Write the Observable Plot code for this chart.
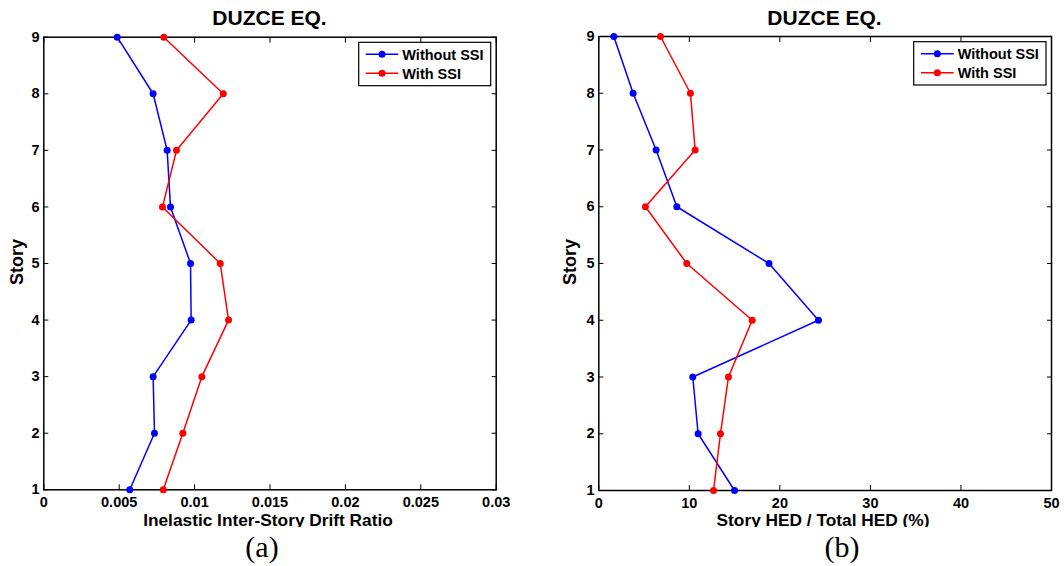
<!DOCTYPE html>
<html>
<head>
<meta charset="utf-8">
<script src="https://cdn.jsdelivr.net/npm/d3@7"></script>
<script src="https://cdn.jsdelivr.net/npm/@observablehq/plot@0.6"></script>
<style>
  html, body { margin: 0; padding: 0; background: #fff; }
  #wrap { position: relative; width: 1064px; height: 566px; overflow: hidden; background: #fff; }
  #wrap > .panel { position: absolute; top: 0; }
  #overlay { position: absolute; left: 0; top: 0; pointer-events: none; }
</style>
</head>
<body>
<div id="wrap"></div>
<script>
// ---------- data ----------
const stories = [1, 2, 3, 4, 5, 6, 7, 8, 9];
const driftWithoutSSI = [0.0057, 0.00734, 0.00725, 0.00977, 0.00973, 0.0084, 0.00818, 0.00725, 0.00487];
const driftWithSSI    = [0.00792, 0.00922, 0.01048, 0.01225, 0.0117, 0.00787, 0.0088, 0.0119, 0.00796];
const hedWithoutSSI   = [14.99, 10.97, 10.38, 24.26, 18.8, 8.62, 6.33, 3.79, 1.66];
const hedWithSSI      = [12.67, 13.44, 14.32, 16.94, 9.72, 5.15, 10.64, 10.12, 6.81];
const seriesNames = ["Without SSI", "With SSI"];
const seriesColors = ["#0000ff", "#ff0000"];
const driftTicks = [0, 0.005, 0.01, 0.015, 0.02, 0.025, 0.03];
const hedTicks = [0, 10, 20, 30, 40, 50];
const storyTicks = [1, 2, 3, 4, 5, 6, 7, 8, 9];
const titleText = "DUZCE EQ.";
const xLabels = ["Inelastic Inter-Story Drift Ratio", "Story HED / Total HED (%)"];
const yLabel = "Story";
const panelTags = ["(a)", "(b)"];

function rows(a, b) {
  const out = [];
  stories.forEach((s, i) => out.push({story: s, value: a[i], series: seriesNames[0]}));
  stories.forEach((s, i) => out.push({story: s, value: b[i], series: seriesNames[1]}));
  return out;
}

const sans = "'Liberation Sans', Arial, Helvetica, sans-serif";
const tickFont = {fontSize: 14.5, fontWeight: "bold", fontFamily: sans};

function panel(data, xDomain, xTicks, opts) {
  const p = Plot.plot({
    width: opts.width,
    height: 530,
    marginLeft: opts.ml,
    marginRight: opts.mr,
    marginTop: opts.mt,
    marginBottom: 530 - opts.bottom,
    style: {fontFamily: sans, fontWeight: "bold", fontSize: "14.5px", color: "#000", background: "transparent"},
    x: {domain: xDomain},
    y: {domain: [1, 9]},
    color: {domain: seriesNames, range: seriesColors},
    marks: [
      Plot.axisX(xTicks, {anchor: "bottom", tickSize: -5, tickPadding: 12, tickFormat: d => String(d), label: null, ...tickFont}),
      Plot.axisX(xTicks, {anchor: "top", tickSize: -5, text: null, label: null}),
      Plot.axisY(storyTicks, {anchor: "left", tickSize: -5, tickPadding: 9.3, tickFormat: d => String(d), label: null, ...tickFont}),
      Plot.axisY(storyTicks, {anchor: "right", tickSize: -5, text: null, label: null}),
      Plot.frame({stroke: "#000", strokeWidth: 1.5}),
      Plot.line(data, {x: "value", y: "story", stroke: "series", z: "series", strokeWidth: 1.5}),
      Plot.dot(data, {x: "value", y: "story", fill: "series", r: 3.5})
    ]
  });
  // make sure tick labels use the intended font
  d3.select(p).selectAll("text")
    .style("font-size", "14.5px").style("font-family", sans).style("font-weight", "bold").style("fill", "#000");
  return p;
}

const wrap = document.getElementById("wrap");

const left = panel(rows(driftWithoutSSI, driftWithSSI), [0, 0.03], driftTicks,
  {width: 532, ml: 43.3, mr: 532 - 495.7, mt: 36.7, bottom: 489.3});
left.classList.add("panel");
left.style.left = "0px";
wrap.appendChild(left);

const right = panel(rows(hedWithoutSSI, hedWithSSI), [0, 50], hedTicks,
  {width: 524, ml: 58.3, mr: 524 - 511, mt: 36, bottom: 490});
right.classList.add("panel");
right.style.left = "540px";
wrap.appendChild(right);

// ---------- overlay texts & legends ----------
const svg = d3.select(wrap).append("svg")
  .attr("id", "overlay").attr("width", 1064).attr("height", 566);
svg.append("defs").append("clipPath").attr("id", "xlabclip")
  .append("rect").attr("x", 0).attr("y", 505).attr("width", 1064).attr("height", 22);

const panelsGeo = [
  {cx: 269.5, storyX: 23, xlabCx: 268, tagCx: 262,
   legend: {x0: 358.7, x1: 490.7, y0: 42.3, y1: 85.7, l0: 365.7, l1: 398.3, tx: 402.3}},
  {cx: 824.5, storyX: 576, xlabCx: 823, tagCx: 842,
   legend: {x0: 913.7, x1: 1046, y0: 41.7, y1: 85, l0: 921, l1: 953.7, tx: 957.7}}
];

panelsGeo.forEach((g, i) => {
  svg.append("text").attr("x", g.cx).attr("y", 25.3)
    .attr("text-anchor", "middle").attr("font-family", sans).attr("font-weight", "bold")
    .attr("font-size", 21).text(titleText);
  svg.append("text").attr("transform", `translate(${g.storyX},262) rotate(-90)`)
    .attr("text-anchor", "middle").attr("font-family", sans).attr("font-weight", "bold")
    .attr("font-size", 18).text(yLabel);
  svg.append("text").attr("x", g.xlabCx).attr("y", 525.5).attr("clip-path", "url(#xlabclip)")
    .attr("text-anchor", "middle").attr("font-family", sans).attr("font-weight", "bold")
    .attr("font-size", 17.3).text(xLabels[i]);
  svg.append("text").attr("x", g.tagCx).attr("y", 557)
    .attr("text-anchor", "middle").attr("font-family", "'Liberation Serif', 'Times New Roman', serif")
    .attr("font-size", 30).text(panelTags[i]);

  const L = g.legend;
  svg.append("rect").attr("x", L.x0).attr("y", L.y0).attr("width", L.x1 - L.x0).attr("height", L.y1 - L.y0)
    .attr("fill", "#fff").attr("stroke", "#000").attr("stroke-width", 1.2);
  const rowY = [L.y0 + 12, L.y0 + 31];
  seriesNames.forEach((name, j) => {
    const y = rowY[j];
    svg.append("line").attr("x1", L.l0).attr("x2", L.l1).attr("y1", y).attr("y2", y)
      .attr("stroke", seriesColors[j]).attr("stroke-width", 1.5);
    svg.append("circle").attr("cx", (L.l0 + L.l1) / 2).attr("cy", y).attr("r", 3.5).attr("fill", seriesColors[j]);
    svg.append("text").attr("x", L.tx).attr("y", y).attr("dy", "0.36em")
      .attr("font-family", sans).attr("font-weight", "bold").attr("font-size", 14.5).text(name);
  });
});
</script>
</body>
</html>
